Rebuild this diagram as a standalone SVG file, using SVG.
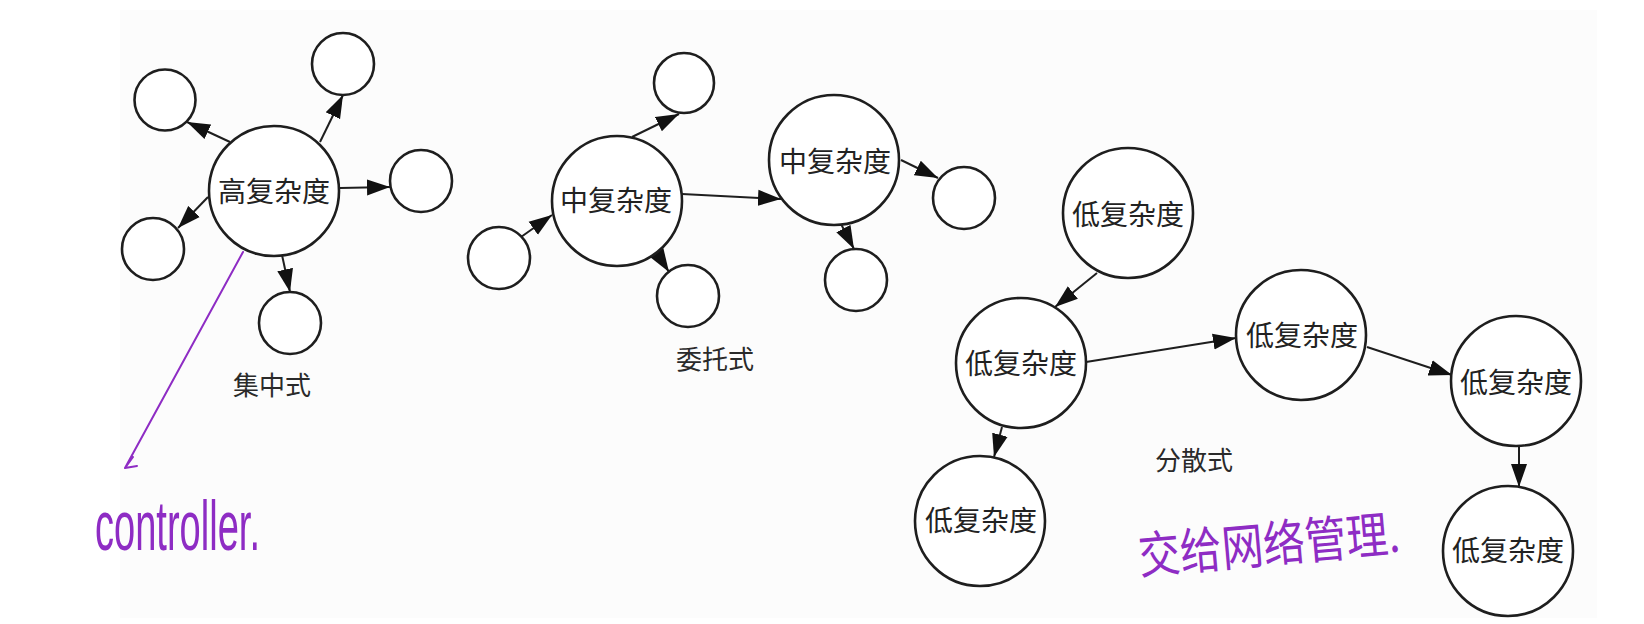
<svg xmlns="http://www.w3.org/2000/svg" width="1644" height="624" viewBox="0 0 1644 624">
<style>
.n{fill:#fff;stroke:#1e1e1e;stroke-width:2.6}
.t{font-family:"Noto Sans CJK SC","Noto Sans CJK JP",sans-serif;font-size:28px;fill:#222;text-anchor:middle}
.lb{font-family:"Noto Sans CJK SC","Noto Sans CJK JP",sans-serif;font-size:26px;fill:#2a2a2a;text-anchor:middle}
.e{stroke:#1e1e1e;stroke-width:2;fill:none;marker-end:url(#ah)}
.hw{fill:#8e2cc4}
</style>
<defs>
<marker id="ah" markerUnits="userSpaceOnUse" markerWidth="23" markerHeight="17" refX="23" refY="8.5" orient="auto">
<path d="M0,0.5 L23,8.5 L0,16.5 z" fill="#111"/>
</marker>
</defs>
<rect width="1644" height="624" fill="#fff"/>
<rect x="120" y="10" width="1477" height="608" fill="#fcfcfc"/>

<g id="connectors">
<line class="e" x1="230" y1="142" x2="187" y2="122"/>
<line class="e" x1="320" y1="142" x2="343" y2="95"/>
<line class="e" x1="340" y1="188" x2="390" y2="187"/>
<line class="e" x1="208" y1="197" x2="178" y2="228"/>
<line class="e" x1="282" y1="255" x2="290" y2="292"/>
<line class="e" x1="521" y1="237" x2="552" y2="215"/>
<line class="e" x1="632" y1="137" x2="679" y2="114"/>
<line class="e" x1="655" y1="250" x2="669" y2="272"/>
<line class="e" x1="682" y1="194" x2="781" y2="199"/>
<line class="e" x1="901" y1="160" x2="938" y2="178"/>
<line class="e" x1="841" y1="224" x2="854" y2="249"/>
<line class="e" x1="1097" y1="273" x2="1055" y2="307"/>
<line class="e" x1="1002" y1="427" x2="994" y2="457"/>
<line class="e" x1="1086" y1="362" x2="1236" y2="338"/>
<line class="e" x1="1367" y1="347" x2="1452" y2="375"/>
<line class="e" x1="1519" y1="446" x2="1519" y2="487"/>
</g>

<g id="high"><circle class="n" cx="274" cy="191" r="65"/><text class="t" x="274" y="202">高复杂度</text></g>
<g id="c1"><circle class="n" cx="165" cy="100" r="30.5"/></g>
<g id="c2"><circle class="n" cx="343" cy="64" r="31"/></g>
<g id="c3"><circle class="n" cx="421" cy="181" r="31"/></g>
<g id="c4"><circle class="n" cx="153" cy="249" r="31"/></g>
<g id="c5"><circle class="n" cx="290" cy="323" r="31"/></g>
<g id="label1"><text class="lb" x="272" y="395">集中式</text></g>

<g id="mid1"><circle class="n" cx="617" cy="201" r="65"/><text class="t" x="616" y="211">中复杂度</text></g>
<g id="mid2"><circle class="n" cx="834" cy="160" r="65"/><text class="t" x="835" y="172">中复杂度</text></g>
<g id="d1"><circle class="n" cx="499" cy="258" r="31"/></g>
<g id="d2"><circle class="n" cx="684" cy="83" r="30"/></g>
<g id="d3"><circle class="n" cx="688" cy="296" r="31"/></g>
<g id="d4"><circle class="n" cx="964" cy="198" r="31"/></g>
<g id="d5"><circle class="n" cx="856" cy="280" r="31"/></g>
<g id="label2"><text class="lb" x="715" y="369">委托式</text></g>

<g id="low1"><circle class="n" cx="1128" cy="213" r="65"/><text class="t" x="1128" y="225">低复杂度</text></g>
<g id="low2"><circle class="n" cx="1021" cy="363" r="65"/><text class="t" x="1021" y="374">低复杂度</text></g>
<g id="low3"><circle class="n" cx="980" cy="521" r="65"/><text class="t" x="981" y="531">低复杂度</text></g>
<g id="low4"><circle class="n" cx="1301" cy="335" r="65"/><text class="t" x="1302" y="346">低复杂度</text></g>
<g id="low5"><circle class="n" cx="1516" cy="381" r="65"/><text class="t" x="1516" y="393">低复杂度</text></g>
<g id="low6"><circle class="n" cx="1508" cy="551" r="65"/><text class="t" x="1508" y="561">低复杂度</text></g>
<g id="label3"><text class="lb" x="1194" y="470">分散式</text></g>

<g id="annotations">
<path d="M243,252 L125,468 M125,468 L133,457 M125,468 L137,466" stroke="#8e2cc4" stroke-width="2" fill="none" stroke-linecap="round"/>
<text class="hw" x="95" y="550" font-family="Liberation Sans, sans-serif" font-size="70" textLength="165" lengthAdjust="spacingAndGlyphs">controller.</text>
<text class="hw" x="1140" y="574" transform="rotate(-5 1140 574)" font-family="Noto Sans CJK SC, sans-serif" font-size="50" textLength="262" lengthAdjust="spacingAndGlyphs">交给网络管理.</text>
</g>
</svg>
